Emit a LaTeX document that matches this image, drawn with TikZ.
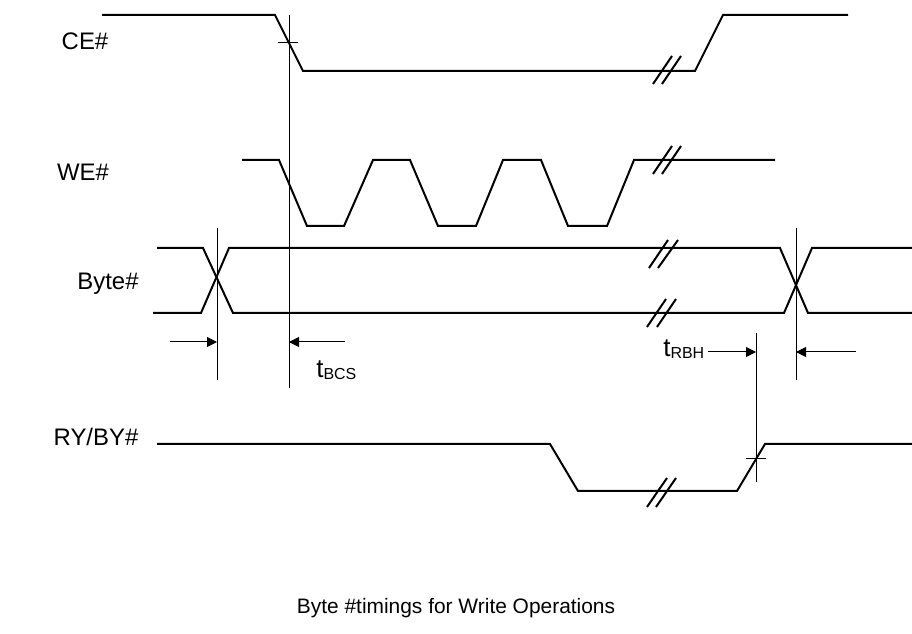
\documentclass[tikz,border=0pt]{standalone}
\usepackage{fontspec}
\setmainfont{Liberation Sans}
\usetikzlibrary{arrows.meta}
\begin{document}
\begin{tikzpicture}[x=0.5bp,y=-0.5bp,
  sig/.style={line width=1bp, line join=miter},
  guide/.style={line width=0.5bp},
  brk/.style={line width=1bp},
  dimarrow/.style={line width=0.5bp,-{Triangle[length=5bp,width=5bp]}},
  lbl/.style={font=\fontsize{12}{14}\selectfont, inner sep=0pt, anchor=center},
  ttl/.style={font=\fontsize{10.5}{12}\selectfont, inner sep=0pt, anchor=center},
  sublbl/.style={font=\fontsize{13}{15}\selectfont, inner sep=0pt, anchor=base west}]
\useasboundingbox (0,0) rectangle (912,634);
\newcommand{\subtxt}[1]{\raisebox{-1bp}{\fontsize{8}{9}\selectfont #1}}
% labels
\node[lbl] (lce) at (85,41) {CE\#};
\node[lbl] (lwe) at (83,172) {WE\#};
\node[lbl] (lbyte) at (108,284) {Byte\#};
\node[lbl] (lry) at (96,437) {RY/BY\#};
\node[ttl] (title) at (456,608) {Byte \#timings for Write Operations};
% CE#
\draw[sig] (102,15) -- (275,15) -- (303,71) -- (695,71) -- (723,15) -- (848,15);
\draw[brk] (653,84) -- (672,56) (662,84) -- (681,56);
\draw[guide] (278,43) -- (298,43);
% WE#
\draw[sig] (242,160) -- (279,160) -- (307,226) -- (344,226) -- (373,160) -- (410,160)
  -- (438,226) -- (476,226) -- (503,160) -- (541,160) -- (568,226) -- (607,226)
  -- (634,160) -- (775,160);
\draw[brk] (653,174) -- (672,146) (662,174) -- (681,146);
% Byte#
\draw[sig] (157,248) -- (203,248) -- (233,313) -- (784,313) -- (812,248) -- (912,248);
\draw[sig] (153,313) -- (201,313) -- (229,248) -- (780,248) -- (808,313) -- (912,313);
\draw[brk] (649,268) -- (668,240) (658,268) -- (678,240);
\draw[brk] (647,327) -- (666,299) (657,327) -- (676,299);
% RY/BY#
\draw[sig] (157,444) -- (550,444) -- (578,491) -- (737,491) -- (765,444) -- (912,444);
\draw[brk] (647,507) -- (667,478) (656,507) -- (676,478);
\draw[guide] (746,459) -- (766,459);
% guide verticals
\coordinate (v1t) at (289,15);  \coordinate (v1b) at (289,388);
\coordinate (v2t) at (217,228); \coordinate (v2b) at (217,380);
\coordinate (v3t) at (796,228); \coordinate (v3b) at (796,380);
\coordinate (v4t) at (756,333); \coordinate (v4b) at (756,482);
\draw[guide] (v1t) -- (v1b) (v2t) -- (v2b) (v3t) -- (v3b) (v4t) -- (v4b);
% dimension arrows
\coordinate (a1s) at (170,342); \coordinate (a1e) at (217,342);
\coordinate (a2s) at (345,342); \coordinate (a2e) at (289,342);
\coordinate (a3s) at (708,352); \coordinate (a3e) at (756,352);
\coordinate (a4s) at (856,352); \coordinate (a4e) at (796,352);
\draw[dimarrow] (a1s) -- (a1e);
\draw[dimarrow] (a2s) -- (a2e);
\draw[dimarrow] (a3s) -- (a3e);
\draw[dimarrow] (a4s) -- (a4e);
\node[sublbl] (tbcs) at (316,378) {t\subtxt{BCS}};
\node[sublbl] (trbh) at (663,357) {t\subtxt{RBH}};
\end{tikzpicture}
\end{document}
